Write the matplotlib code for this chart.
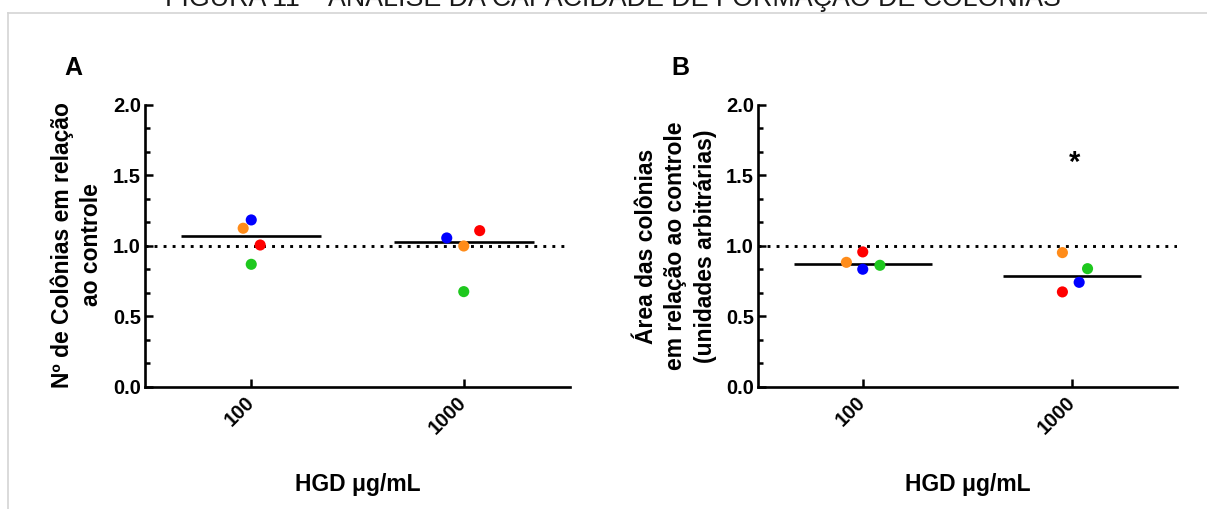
import matplotlib
matplotlib.use("Agg")
import matplotlib.pyplot as plt
from matplotlib.ticker import MultipleLocator, FormatStrFormatter
from matplotlib.lines import Line2D

plt.rcParams['font.family'] = ['Liberation Sans', 'DejaVu Sans']
plt.rcParams['font.weight'] = 'bold'

# Data
categories = ['100', '1000']
dot_colors = ['#0000FF', '#FF8C1A', '#FF0000', '#1EC81E']  # blue, orange, red, green

# panel A: number of colonies relative to control (one list per colour)
colonies_blue = [1.184, 1.056]
colonies_orange = [1.125, 0.999]
colonies_red = [1.006, 1.108]
colonies_green = [0.869, 0.675]
colonies_mean = [1.068, 1.028]
colonies_jitter = [[0.0, -0.08], [-0.038, 0.0], [0.042, 0.075], [0.0, 0.0]]

# panel B: colony area relative to control
area_blue = [0.834, 0.741]
area_orange = [0.883, 0.952]
area_red = [0.957, 0.673]
area_green = [0.862, 0.838]
area_mean = [0.874, 0.788]
area_jitter = [[0.0, 0.033], [-0.078, -0.047], [0.0, -0.047], [0.082, 0.073]]

W, H = 1207, 509
fig = plt.figure(figsize=(W / 100, H / 100), dpi=100)


def px(x, y):
    # pixel coords (from top-left) to figure fraction
    return x / W, 1 - y / H


def draw_panel(ax, series, means, jitter, ylabel_text, label_xy, letter, letter_xy):
    pos = list(range(len(categories)))
    ax.axhline(1.0, color='black', lw=2.1, ls=(0, (1, 2.1)), zorder=1)
    ax.hlines(means, [p - 0.33 for p in pos], [p + 0.33 for p in pos],
              color='black', lw=1.9, zorder=2)
    for vals, col, jit in zip(series, dot_colors, jitter):
        xs = [p + j for p, j in zip(pos, jit)]
        ax.scatter(xs, vals, s=64, color=col, edgecolors='none', zorder=3)

    ax.set_xlim(-0.5, 1.5)
    ax.set_ylim(0, 2.0)
    ax.set_xticks(pos)
    ax.set_xticklabels(categories, rotation=45, ha='right', va='center',
                       rotation_mode='anchor', fontsize=14.5, fontweight='bold')
    ax.yaxis.set_major_locator(MultipleLocator(0.5))
    ax.yaxis.set_minor_locator(MultipleLocator(0.5 / 3))
    ax.yaxis.set_major_formatter(FormatStrFormatter('%.1f'))
    for lab in ax.get_yticklabels():
        lab.set_fontsize(14.5)
        lab.set_fontweight('bold')
    ax.tick_params(axis='y', which='major', direction='in', length=6, width=1.8, pad=3)
    ax.tick_params(axis='y', which='minor', direction='in', length=3.5, width=1.8)
    ax.tick_params(axis='x', which='major', direction='in', length=6, width=1.8, pad=9)
    ax.spines['top'].set_visible(False)
    ax.spines['right'].set_visible(False)
    ax.spines['left'].set_linewidth(1.9)
    ax.spines['bottom'].set_linewidth(1.9)
    ax.patch.set_alpha(0)

    fx, fy = px(*label_xy)
    fig.text(fx, fy, ylabel_text, rotation=90, ha='center', va='center',
             fontsize=16.5, fontweight='bold', linespacing=1.35, multialignment='center')
    lx, ly = px(*letter_xy)
    fig.text(lx, ly, letter, ha='center', va='center', fontsize=18, fontweight='bold')

    bb = ax.get_position()
    fig.text((bb.x0 + bb.x1) / 2, px(0, 484)[1], 'HGD \u03bcg/mL', ha='center', va='center',
             fontsize=16.5, fontweight='bold')


axA = fig.add_axes([145 / W, 1 - 386.7 / H, (570 - 145) / W, 281.7 / H])
draw_panel(axA, [colonies_blue, colonies_orange, colonies_red, colonies_green],
           colonies_mean, colonies_jitter,
           'N\u00ba de Col\u00f4nias em rela\u00e7\u00e3o\nao controle', (77, 245), 'A', (73, 68))

axB = fig.add_axes([758 / W, 1 - 386.7 / H, (1177 - 758) / W, 281.7 / H])
draw_panel(axB, [area_blue, area_orange, area_red, area_green],
           area_mean, area_jitter,
           '\u00c1rea das col\u00f4nias\nem rela\u00e7\u00e3o ao controle\n(unidades arbitr\u00e1rias)',
           (676, 246), 'B', (680, 68))
axB.text(1.01, 1.53, '*', ha='center', va='baseline', fontsize=21, fontweight='bold')

# page frame and caption cut off at the top edge, as in the source
fig.add_artist(Line2D([8 / W, 1], [1 - 12.5 / H] * 2, color='#d4d4d4', lw=1.2))
fig.add_artist(Line2D([8 / W] * 2, [0, 1 - 12.5 / H], color='#d4d4d4', lw=1.2))
tx, ty = px(612.5, 6)
fig.text(tx, ty, 'FIGURA 11 \u2013 AN\u00c1LISE DA CAPACIDADE DE FORMA\u00c7\u00c3O DE COL\u00d4NIAS',
         ha='center', va='baseline', fontsize=19.3, fontweight='normal', color='#1a1a1a')

fig.savefig('out.png', dpi=100)
